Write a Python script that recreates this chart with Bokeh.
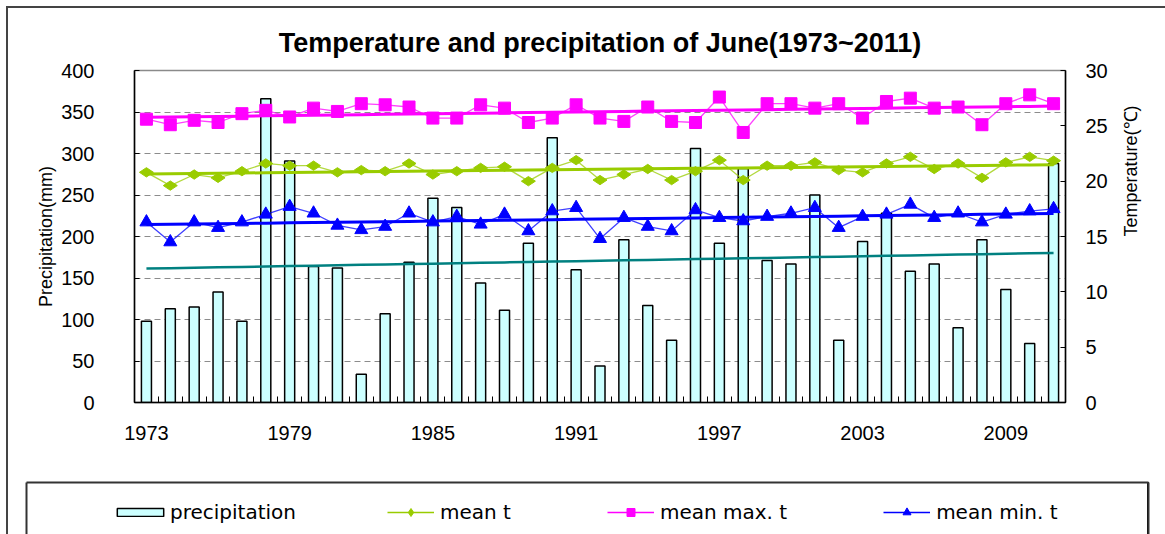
import numpy as np
from bokeh.plotting import figure
from bokeh.layouts import column, row
from bokeh.models import (Range1d, LinearAxis, FixedTicker, Legend, LegendItem)
from bokeh.embed import file_html
from bokeh.resources import INLINE

# ---------------- data ----------------
years = list(range(1973, 2012))
precipitation = [98, 113, 115, 133, 98, 366, 291, 164, 162, 34,
                 107, 169, 246, 235, 144, 111, 192, 319, 160, 44,
                 196, 117, 75, 306, 192, 282, 171, 167, 250, 75,
                 194, 228, 158, 167, 90, 196, 136, 71, 288]
mean_t = [20.8, 19.6, 20.6, 20.3, 20.9, 21.6, 21.4, 21.4, 20.8, 21.0,
          20.9, 21.6, 20.6, 20.9, 21.2, 21.3, 20.0, 21.2, 21.9, 20.1,
          20.6, 21.1, 20.1, 20.9, 21.9, 20.1, 21.4, 21.4, 21.7, 21.0,
          20.8, 21.6, 22.2, 21.1, 21.6, 20.3, 21.7, 22.2, 21.85]
mean_max_t = [25.6, 25.1, 25.5, 25.3, 26.1, 26.4, 25.8, 26.6, 26.3, 27.0,
              26.9, 26.7, 25.7, 25.7, 26.9, 26.6, 25.3, 25.7, 26.9, 25.7,
              25.4, 26.7, 25.4, 25.3, 27.6, 24.4, 27.0, 27.0, 26.6, 27.0,
              25.7, 27.2, 27.5, 26.6, 26.7, 25.1, 27.0, 27.8, 27.0]
mean_min_t = [16.3, 14.5, 16.3, 15.8, 16.3, 17.0, 17.7, 17.1, 16.0, 15.6,
              15.9, 17.1, 16.3, 16.8, 16.1, 17.0, 15.5, 17.3, 17.6, 14.8,
              16.7, 15.9, 15.5, 17.4, 16.7, 16.4, 16.8, 17.1, 17.6, 15.8,
              16.8, 17.0, 17.9, 16.7, 17.1, 16.3, 17.0, 17.3, 17.5]
label_years = [1973, 1979, 1985, 1991, 1997, 2003, 2009]
precip_ticks = [0, 50, 100, 150, 200, 250, 300, 350, 400]
temp_ticks = [0, 5, 10, 15, 20, 25, 30]

title_text = "Temperature and precipitation of June(1973~2011)"
left_label = "Precipitation(mm)"
right_label = "Temperature(℃)"
series_names = ["mean t", "mean max. t", "mean min. t"]
bar_name = "precipitation"

# ---------------- derived ----------------
yrs = np.array(years, dtype=float)
def trend(vals):
    k, b = np.polyfit(yrs, np.array(vals, dtype=float), 1)
    return list(k * yrs + b)

boundaries = [y - 0.5 for y in years] + [years[-1] + 0.5]
temp_series = [mean_t, mean_max_t, mean_min_t]

TICK_FONT = "Liberation Sans"
BAR_FILL = "#CCFFFF"
COLORS = ["#99CC00", "#FF00FF", "#0000FF"]
MARKERS = ["diamond", "square", "triangle"]
SIZES = [14, 12, 13]
ANGLES = [np.pi / 2, 0, 0]

# ---------------- main chart ----------------
p = figure(width=1157, height=473, output_backend="svg", toolbar_location=None,
           x_range=Range1d(years[0] - 0.5, years[-1] + 0.5),
           y_range=Range1d(precip_ticks[0], precip_ticks[-1]),
           min_border_left=126, min_border_right=100,
           min_border_top=62, min_border_bottom=79,
           title=title_text)
p.extra_y_ranges = {"t": Range1d(temp_ticks[0], temp_ticks[-1])}

p.title.align = "center"
p.title.text_font = "Liberation Sans"
p.title.text_font_size = "27px"
p.title.text_font_style = "bold"
p.title.text_color = "#000000"
p.title.standoff = 25

p.outline_line_color = "#8a8a8a"
p.outline_line_width = 1.5
p.background_fill_color = "white"
p.border_fill_color = "white"

xa = p.xaxis[0]
xa.ticker = FixedTicker(ticks=label_years, minor_ticks=boundaries)
xa.major_tick_in = 0
xa.major_tick_out = 0
xa.minor_tick_in = 6
xa.minor_tick_out = 0
xa.minor_tick_line_color = "black"
xa.axis_line_color = "black"
xa.axis_line_width = 1.5
xa.major_label_standoff = 23
xa.major_label_text_font = TICK_FONT
xa.major_label_text_font_size = "20px"
xa.major_label_text_color = "#000000"

ya = p.yaxis[0]
ya.ticker = FixedTicker(ticks=precip_ticks)
ya.major_tick_in = 5
ya.major_tick_out = 0
ya.minor_tick_line_color = None
ya.axis_line_color = "black"
ya.axis_line_width = 1.5
ya.major_label_standoff = 40
ya.major_label_text_font = TICK_FONT
ya.major_label_text_font_size = "20px"
ya.major_label_text_color = "#000000"
ya.axis_label = left_label
ya.axis_label_text_font = TICK_FONT
ya.axis_label_text_font_size = "18px"
ya.axis_label_text_font_style = "normal"
ya.axis_label_text_color = "#000000"
ya.axis_label_standoff = 2

ra = LinearAxis(y_range_name="t", ticker=FixedTicker(ticks=temp_ticks))
ra.major_tick_in = 5
ra.major_tick_out = 0
ra.minor_tick_line_color = None
ra.axis_line_color = "black"
ra.axis_line_width = 1.5
ra.major_label_standoff = 20
ra.major_label_text_font = TICK_FONT
ra.major_label_text_font_size = "20px"
ra.major_label_text_color = "#000000"
ra.axis_label = right_label
ra.axis_label_text_font = TICK_FONT
ra.axis_label_text_font_size = "18px"
ra.axis_label_text_font_style = "normal"
ra.axis_label_text_color = "#000000"
ra.axis_label_standoff = 20
ra.axis_label_orientation = np.pi / 2
p.add_layout(ra, "right")

p.xgrid.grid_line_color = None
p.ygrid.grid_line_color = "#8c8c8c"
p.ygrid.grid_line_dash = "6 4"
p.ygrid.grid_line_width = 1

p.vbar(x=years, top=precipitation, width=0.42, bottom=0,
       fill_color=BAR_FILL, line_color="black", line_width=1.5)
p.line(years, trend(precipitation), line_color="#008080", line_width=2.5)

for vals, col, mk, sz, ang in zip(temp_series, COLORS, MARKERS, SIZES, ANGLES):
    p.line(years, vals, y_range_name="t", line_color=col, line_width=1.3, line_alpha=0.75)
    p.line(years, trend(vals), y_range_name="t", line_color=col, line_width=3)
    p.scatter(years, vals, y_range_name="t", marker=mk, size=sz, angle=ang,
              fill_color=col, line_color=col)

# ---------------- legend box (second figure) ----------------
# ranges chosen so the proxy renderers (same data) stay out of view
p2 = figure(width=1157, height=53, output_backend="svg", toolbar_location=None,
            x_range=Range1d(0, 1), y_range=Range1d(0, 1),
            x_axis_location="above",
            min_border_left=18, min_border_right=17,
            min_border_top=1, min_border_bottom=0)
p2.outline_line_color = None
p2.grid.grid_line_color = None
p2.background_fill_color = "white"
p2.border_fill_color = "white"
rax2 = LinearAxis()
p2.add_layout(rax2, "right")
for ax in [p2.xaxis[0], p2.yaxis[0], rax2]:
    ax.ticker = FixedTicker(ticks=[])
    ax.major_tick_in = 0
    ax.major_tick_out = 0
    ax.minor_tick_in = 0
    ax.minor_tick_out = 0
    ax.major_label_text_font_size = "0px"
    ax.major_label_standoff = 0
    ax.axis_line_color = "#333333"
    ax.axis_line_width = 2

bar_proxy = p2.vbar(x=years, top=precipitation, width=0.42, fill_color=BAR_FILL,
                    line_color="black", line_width=1.5)
items = []
for name, vals, col, mk, sz, ang in zip(series_names, temp_series, COLORS, MARKERS, SIZES, ANGLES):
    lr = p2.line(years, vals, line_color=col, line_width=1.5)
    sr = p2.scatter(years, vals, marker=mk, size=sz * 0.8, angle=ang,
                    fill_color=col, line_color=col)
    items.append(LegendItem(label=name, renderers=[lr, sr]))

common = dict(orientation="horizontal", padding=0, margin=0, border_line_alpha=0,
              background_fill_alpha=0, label_text_font="DejaVu Sans",
              label_text_font_size="20px", label_text_color="#000000",
              label_height=20, spacing=96)
leg1 = Legend(items=[LegendItem(label=bar_name, renderers=[bar_proxy])],
              location=(85, 10), glyph_width=58, glyph_height=10,
              label_standoff=1, **common)
leg2 = Legend(items=items, location=(361, 10), glyph_width=47, glyph_height=20,
              label_standoff=6, **common)
p2.add_layout(leg1)
p2.add_layout(leg2)

layout = column(p, row(p2), spacing=0, margin=(6, 0, 0, 6),
                styles={"border-top": "2px solid #444444",
                        "border-left": "2px solid #444444"})

open("out.html", "w").write(file_html(layout, INLINE))
